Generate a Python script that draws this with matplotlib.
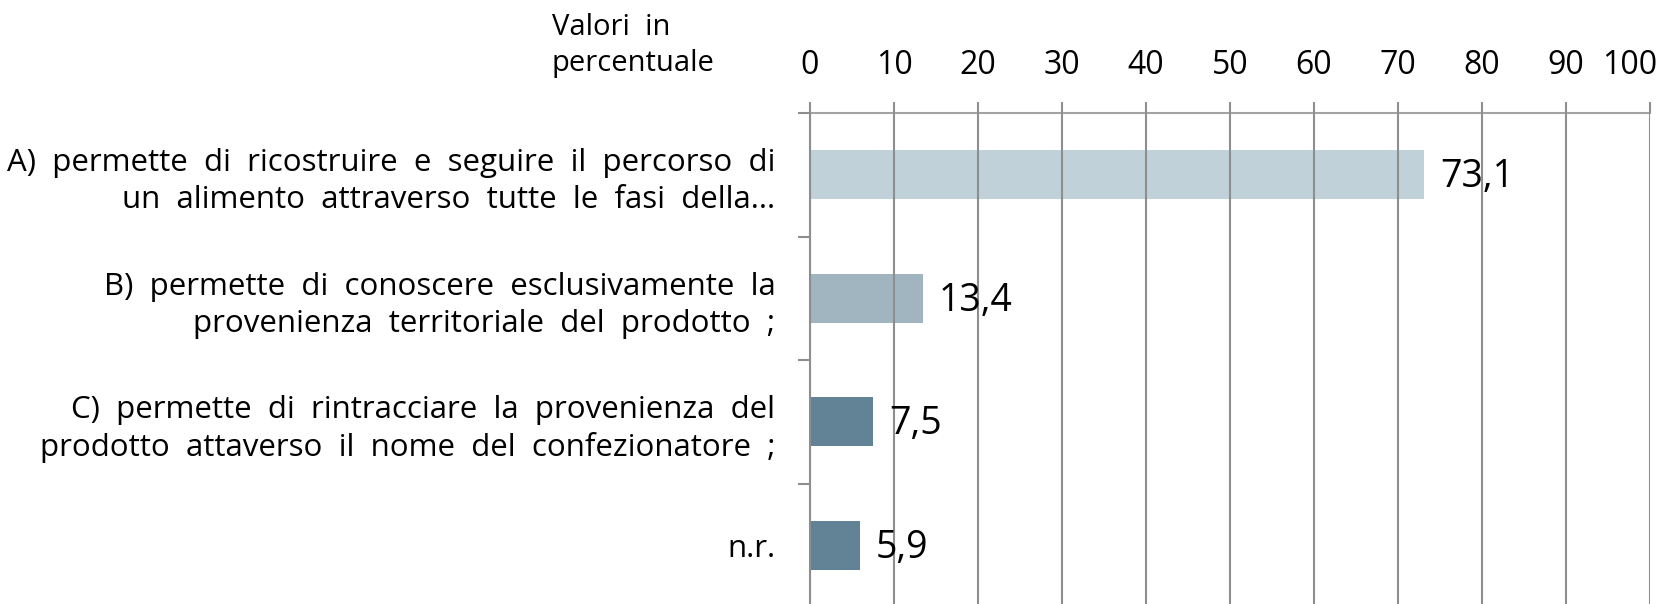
import matplotlib
matplotlib.use("Agg")
import matplotlib.pyplot as plt
from matplotlib.transforms import offset_copy

# dati
categorie = [
    "A)  permette  di  ricostruire  e  seguire  il  percorso  di\nun  alimento  attraverso  tutte  le  fasi  della...",
    "B)  permette  di  conoscere  esclusivamente  la\nprovenienza  territoriale  del  prodotto  ;",
    "C)  permette  di  rintracciare  la  provenienza  del\nprodotto  attaverso  il  nome  del  confezionatore  ;",
    "n.r.",
]
valori = [73.1, 13.4, 7.5, 5.9]
etichette = ["73,1", "13,4", "7,5", "5,9"]
colori = ["#c1d1d9", "#a0b5c0", "#628296", "#628296"]
tick_x = list(range(0, 101, 10))

plt.rcParams['font.family'] = ['Open Sans', 'DejaVu Sans']
grigio = "#8e8e8e"

fig = plt.figure(figsize=(16.81, 6.04), dpi=100)
ax = fig.add_axes([810 / 1681, -0.005, 840 / 1681, 0.8179])

pos = list(range(len(categorie)))
ax.barh(pos, valori, height=0.4, color=colori, zorder=1)

for y, v, t in zip(pos, valori, etichette):
    ax.text(v + 1.9, y + 0.02, t, va="center", ha="left", fontsize=27, zorder=3)

ax.set_xlim(0, 100)
ax.set_ylim(len(categorie) - 0.5, -0.5)

# asse x in alto
ax.xaxis.tick_top()
ax.set_xticks(tick_x)
ax.set_xticklabels([str(t) for t in tick_x], fontsize=23)
ax.tick_params(axis="x", direction="out", length=8, width=1.5, color=grigio, pad=14)
ax.grid(axis="x", color=grigio, linewidth=1.5, zorder=2)
ax.set_axisbelow(False)
# l'ultima etichetta è spostata a sinistra come nell'originale
lab100 = ax.get_xticklabels()[-1]
lab100.set_transform(offset_copy(lab100.get_transform(), fig=fig, x=-20, units="dots"))

# categorie
ax.set_yticks(pos)
ax.set_yticklabels(categorie, fontsize=22.5, linespacing=1.3)
ax.tick_params(axis="y", which="major", length=0, pad=25)
ax.set_yticks([-0.5, 0.5, 1.5, 2.5], minor=True)
ax.tick_params(axis="y", which="minor", direction="out", length=8.5, width=1.5, color=grigio)

for s in ["right", "bottom"]:
    ax.spines[s].set_visible(False)
ax.spines["left"].set_color(grigio)
ax.spines["left"].set_linewidth(1.5)
ax.spines["top"].set_color("#a3a3a3")
ax.spines["top"].set_linewidth(1.5)

fig.text(552 / 1681, 1 - 13 / 604, "Valori  in\npercentuale", fontsize=21, va="top", ha="left",
         linespacing=1.3)

fig.savefig("out.png", dpi=100)
